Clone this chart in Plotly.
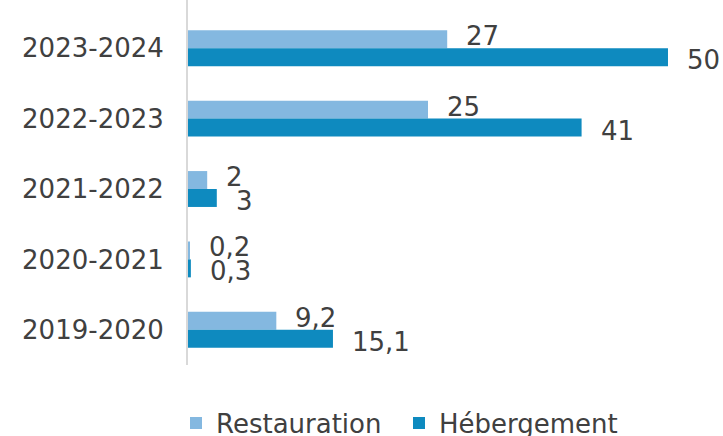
import plotly.graph_objects as go

categories = ["2019-2020", "2020-2021", "2021-2022", "2022-2023", "2023-2024"]
restauration = [9.2, 0.2, 2, 25, 27]
hebergement = [15.1, 0.3, 3, 41, 50]
restauration_labels = ["9,2", "0,2", "2", "25", "27"]
hebergement_labels = ["15,1", "0,3", "3", "41", "50"]

C_LIGHT = "#84B8E0"
C_DARK = "#0E8ABF"
TXT = "#404040"
FONT = "DejaVu Sans"
FS = 26

pos = list(range(len(categories)))
bw = 0.255
off = bw / 2

fig = go.Figure()
fig.add_trace(go.Bar(
    name="Restauration", orientation="h", legend="legend",
    x=restauration, y=[p + off for p in pos], width=bw,
    marker=dict(color=C_LIGHT, line=dict(width=0)),
))
fig.add_trace(go.Bar(
    name="Hébergement", orientation="h", legend="legend2",
    x=hebergement, y=[p - off for p in pos], width=bw,
    marker=dict(color=C_DARK, line=dict(width=0)),
))

annotations = []
for p, v, t in zip(pos, restauration, restauration_labels):
    annotations.append(dict(x=v, y=p + off, text=t, xref="x", yref="y",
                            xanchor="left", yanchor="middle", xshift=17, yshift=3,
                            showarrow=False, font=dict(family=FONT, size=FS, color=TXT)))
for p, v, t in zip(pos, hebergement, hebergement_labels):
    annotations.append(dict(x=v, y=p - off, text=t, xref="x", yref="y",
                            xanchor="left", yanchor="middle", xshift=17, yshift=-3,
                            showarrow=False, font=dict(family=FONT, size=FS, color=TXT)))

legend_common = dict(orientation="h", xref="container", yref="container",
                     xanchor="left", y=1 - 423 / 436, yanchor="middle",
                     font=dict(family=FONT, size=FS, color=TXT),
                     bgcolor="rgba(0,0,0,0)")

fig.update_layout(
    width=723, height=436,
    margin=dict(l=188, r=0, t=0, b=71),
    paper_bgcolor="white", plot_bgcolor="white",
    barmode="overlay",
    showlegend=True,
    legend=dict(x=176 / 723, **legend_common),
    legend2=dict(x=399 / 723, **legend_common),
    annotations=annotations,
    font=dict(family=FONT, size=FS, color=TXT),
)
fig.update_xaxes(range=[0, 55.73], visible=False, showgrid=False, zeroline=False)
fig.update_yaxes(range=[-0.5, 4.685], tickvals=pos, ticktext=categories,
                 showgrid=False, zeroline=False, showline=True, linecolor="#D9D9D9",
                 linewidth=2, ticks="", ticklabelstandoff=17, automargin=False,
                 tickfont=dict(family=FONT, size=FS, color=TXT))

fig.write_html("out.html", config={"displayModeBar": False})

with open("out.html", "r", encoding="utf-8") as f:
    html = f.read()
html = html.replace("<body>", '<body style="margin:0;padding:0;">', 1)
with open("out.html", "w", encoding="utf-8") as f:
    f.write(html)
